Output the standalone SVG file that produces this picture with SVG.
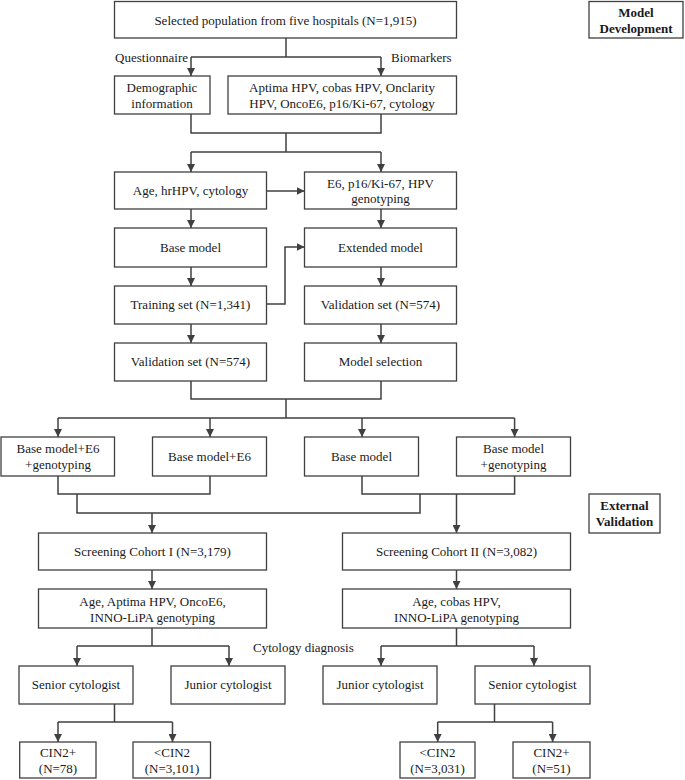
<svg xmlns="http://www.w3.org/2000/svg" width="685" height="780" viewBox="0 0 685 780">
<defs>
<marker id="ah" viewBox="0 0 10 10" refX="10" refY="5" markerWidth="8" markerHeight="8" markerUnits="userSpaceOnUse" orient="auto">
<path d="M0,0 L10,5 L0,10 z" fill="#404040"/>
</marker>
<style>
rect{fill:#fff;stroke:#404040;stroke-width:1.3}
text{font-family:"Liberation Serif","Times New Roman",serif;font-size:13px;fill:#1a1a1a;text-anchor:middle;dominant-baseline:central}
.b{font-weight:bold}
.l{text-anchor:start}
.e{text-anchor:end}
#conn path{fill:none;stroke:#404040;stroke-width:1.5}
#conn path.a{marker-end:url(#ah)}
</style>
</defs>
<rect x="0" y="0" width="685" height="780" style="fill:#fff;stroke:none"/>
<g id="conn">
<path d="M286,38 V57 M191,57 H381"/>
<path class="a" d="M191,57 V76"/>
<path class="a" d="M381,57 V76"/>
<path d="M191,114 V133 H381 V114 M286,133 V152 M191,152 H381"/>
<path class="a" d="M191,152 V172"/>
<path class="a" d="M381,152 V172"/>
<path class="a" d="M266.5,191 H304.5"/>
<path class="a" d="M191,209 V228"/>
<path class="a" d="M381,209 V228"/>
<path class="a" d="M191,267 V286"/>
<path class="a" d="M381,267 V286"/>
<path class="a" d="M266.5,304 H285 V247 H304.5"/>
<path class="a" d="M191,324 V343"/>
<path class="a" d="M381,324 V343"/>
<path d="M191,381 V399 H381 V381 M286,399 V418 M58,418 H514.6"/>
<path class="a" d="M58,418 V437"/>
<path class="a" d="M210,418 V437"/>
<path class="a" d="M362,418 V437"/>
<path class="a" d="M514.6,418 V437"/>
<path d="M58,476 V494 H210 V476 M362,476 V494 H514.6 V476 M77,494 V513 H420 V494"/>
<path class="a" d="M152,513 V533"/>
<path class="a" d="M456.5,494 V533"/>
<path class="a" d="M152,570 V589"/>
<path class="a" d="M456.5,570 V589"/>
<path d="M152,628 V646 M77,646 H229 M456.5,628 V646 M381,646 H534"/>
<path class="a" d="M77,646 V666"/>
<path class="a" d="M229,646 V666"/>
<path class="a" d="M381,646 V666"/>
<path class="a" d="M534,646 V666"/>
<path d="M114.5,704 V722 M58,722 H172.5 M494.5,704 V722 M437.7,722 H552.6"/>
<path class="a" d="M58,722 V742"/>
<path class="a" d="M172.5,722 V742"/>
<path class="a" d="M437.7,722 V742"/>
<path class="a" d="M552.6,722 V742"/>
</g>
<g id="labels">
<text class="e" x="188" y="57">Questionnaire</text>
<text class="l" x="391" y="57">Biomarkers</text>
<text class="l" x="253" y="647">Cytology diagnosis</text>
</g>
<g id="n-top"><rect x="114.5" y="1.5" width="342" height="36.5"/><text x="285.5" y="20">Selected population from five hospitals (N=1,915)</text></g>
<g id="n-md"><rect x="589" y="1.5" width="94" height="36.5"/><text class="b" x="636" y="12.5">Model</text><text class="b" x="636" y="28">Development</text></g>
<g id="n-demo"><rect x="114.5" y="76" width="95.5" height="38"/><text x="162" y="87.5">Demographic</text><text x="162" y="103">information</text></g>
<g id="n-bio"><rect x="228" y="76" width="228.5" height="38"/><text x="342" y="87.5">Aptima HPV, cobas HPV, Onclarity</text><text x="342" y="103">HPV, OncoE6, p16/Ki-67, cytology</text></g>
<g id="n-age"><rect x="114.5" y="172" width="152" height="37"/><text x="190.5" y="190.5">Age, hrHPV, cytology</text></g>
<g id="n-e6"><rect x="304.5" y="172" width="152" height="37"/><text x="380.5" y="183">E6, p16/Ki-67, HPV</text><text x="380.5" y="198">genotyping</text></g>
<g id="n-base"><rect x="114.5" y="228" width="152" height="39"/><text x="190.5" y="247">Base model</text></g>
<g id="n-ext"><rect x="304.5" y="228" width="152" height="39"/><text x="380.5" y="247">Extended model</text></g>
<g id="n-train"><rect x="114.5" y="286" width="152" height="38"/><text x="190.5" y="304.5">Training set (N=1,341)</text></g>
<g id="n-val2"><rect x="304.5" y="286" width="152" height="38"/><text x="380.5" y="304.5">Validation set (N=574)</text></g>
<g id="n-val1"><rect x="114.5" y="343" width="152" height="38"/><text x="190.5" y="361.5">Validation set (N=574)</text></g>
<g id="n-sel"><rect x="304.5" y="343" width="152" height="38"/><text x="380.5" y="361.5">Model selection</text></g>
<g id="n-m1"><rect x="1" y="437" width="113.5" height="39"/><text x="58" y="448.5">Base model+E6</text><text x="58" y="464.5">+genotyping</text></g>
<g id="n-m2"><rect x="152.5" y="437" width="114" height="39"/><text x="209.5" y="456.5">Base model+E6</text></g>
<g id="n-m3"><rect x="304.5" y="437" width="114" height="39"/><text x="361.5" y="456.5">Base model</text></g>
<g id="n-m4"><rect x="456.5" y="437" width="114" height="39"/><text x="513.5" y="448.5">Base model</text><text x="513.5" y="464.5">+genotyping</text></g>
<g id="n-ev"><rect x="589" y="494" width="71" height="39"/><text class="b" x="624.5" y="505.5">External</text><text class="b" x="624.5" y="521">Validation</text></g>
<g id="n-sc1"><rect x="38.5" y="533" width="228" height="37"/><text x="152.5" y="551.5">Screening Cohort I (N=3,179)</text></g>
<g id="n-sc2"><rect x="342.5" y="533" width="228" height="37"/><text x="456.5" y="551.5">Screening Cohort II (N=3,082)</text></g>
<g id="n-t1"><rect x="38.5" y="589" width="228" height="39"/><text x="152.5" y="601.5">Age, Aptima HPV, OncoE6,</text><text x="152.5" y="617">INNO-LiPA genotyping</text></g>
<g id="n-t2"><rect x="342.5" y="589" width="228" height="39"/><text x="456.5" y="601.5">Age, cobas HPV,</text><text x="456.5" y="617">INNO-LiPA genotyping</text></g>
<g id="n-s1"><rect x="19" y="666" width="114" height="38"/><text x="76" y="684.5">Senior cytologist</text></g>
<g id="n-j1"><rect x="171" y="666" width="114" height="38"/><text x="228" y="684.5">Junior cytologist</text></g>
<g id="n-j2"><rect x="323" y="666" width="114" height="38"/><text x="380" y="684.5">Junior cytologist</text></g>
<g id="n-s2"><rect x="475" y="666" width="115" height="38"/><text x="532.5" y="684.5">Senior cytologist</text></g>
<g id="n-c1"><rect x="19.7" y="742" width="76.3" height="36"/><text x="58" y="752.5">CIN2+</text><text x="58" y="768">(N=78)</text></g>
<g id="n-c2"><rect x="133" y="742" width="77.5" height="36"/><text x="172" y="752.5">&lt;CIN2</text><text x="172" y="768">(N=3,101)</text></g>
<g id="n-c3"><rect x="400" y="742" width="75" height="36"/><text x="437.5" y="752.5">&lt;CIN2</text><text x="437.5" y="768">(N=3,031)</text></g>
<g id="n-c4"><rect x="513" y="742" width="77" height="36"/><text x="551.5" y="752.5">CIN2+</text><text x="551.5" y="768">(N=51)</text></g>
</svg>
